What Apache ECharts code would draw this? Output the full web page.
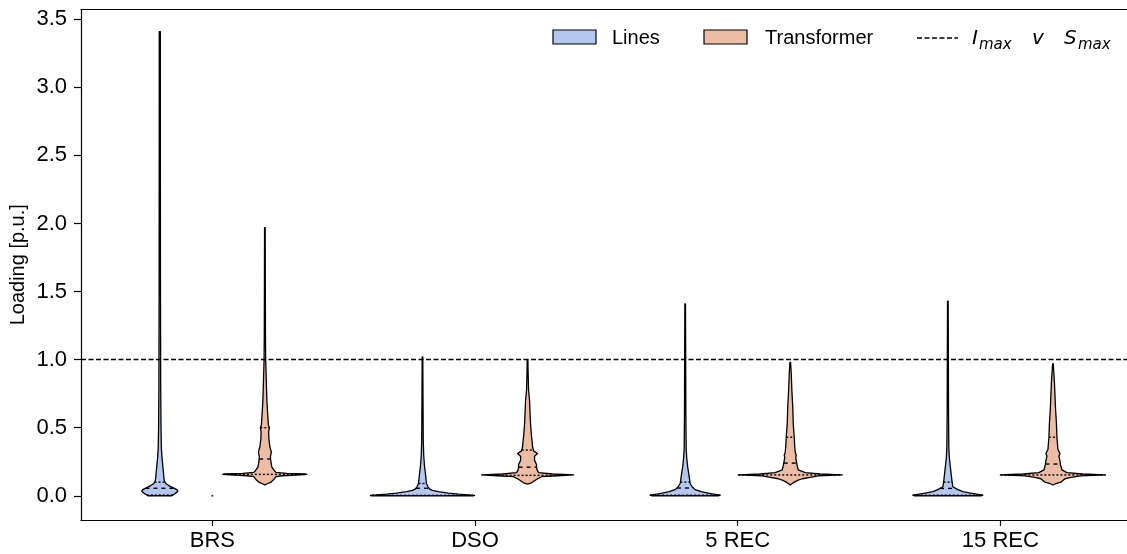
<!DOCTYPE html>
<html>
<head>
<meta charset="utf-8">
<script src="https://cdn.jsdelivr.net/npm/echarts@6/dist/echarts.min.js"></script>
<style>
html, body { margin: 0; padding: 0; background: #fff; }
#main { width: 1127px; height: 554px; }
</style>
</head>
<body>
<div id="main"></div>
<script>
// categories and ticks
var scenarios = ['BRS', 'DSO', '5 REC', '15 REC'];
var yTicks = [0, 0.5, 1, 1.5, 2, 2.5, 3, 3.5];
var limitValue = 1.0;

// violin profiles: [loading p.u., relative half width]
var linesBRS = [
    [3.41, 0.01], [2.5, 0.011], [1.5, 0.013], [0.8, 0.017], [0.5, 0.023], [0.35, 0.03],
    [0.28, 0.042], [0.22, 0.057], [0.18, 0.067], [0.14, 0.076], [0.11, 0.086], [0.09, 0.114],
    [0.075, 0.171], [0.06, 0.248], [0.045, 0.324], [0.035, 0.343], [0.025, 0.324],
    [0.015, 0.286], [0.005, 0.248], [0.0, 0.229]
];
var trafoBRS = [
    [1.97, 0.006], [1.6, 0.008], [1.2, 0.011], [1.0, 0.015], [0.9, 0.023], [0.8, 0.03],
    [0.7, 0.038], [0.6, 0.053], [0.52, 0.067], [0.5, 0.086], [0.47, 0.072], [0.42, 0.076],
    [0.36, 0.095], [0.32, 0.124], [0.29, 0.105], [0.25, 0.114], [0.21, 0.133], [0.18, 0.19],
    [0.172, 0.21], [0.165, 0.42], [0.16, 0.76], [0.157, 0.8], [0.153, 0.67], [0.147, 0.34],
    [0.14, 0.21], [0.12, 0.171], [0.1, 0.114], [0.09, 0.057], [0.08, 0.0]
];
var linesDSO = [
    [1.02, 0.006], [0.7, 0.01], [0.4, 0.015], [0.3, 0.023], [0.22, 0.038], [0.16, 0.057],
    [0.12, 0.067], [0.09, 0.076], [0.066, 0.105], [0.05, 0.133], [0.04, 0.19], [0.03, 0.305],
    [0.02, 0.495], [0.012, 0.686], [0.006, 0.876], [0.002, 0.99], [0.0, 0.95]
];
var trafoDSO = [
    [1.0, 0.006], [0.9, 0.011], [0.78, 0.019], [0.7, 0.038], [0.6, 0.048], [0.53, 0.057],
    [0.45, 0.072], [0.4, 0.086], [0.36, 0.095], [0.33, 0.114], [0.31, 0.19], [0.29, 0.133],
    [0.26, 0.133], [0.23, 0.171], [0.21, 0.171], [0.19, 0.181], [0.17, 0.21], [0.16, 0.476],
    [0.153, 0.876], [0.147, 0.571], [0.14, 0.267], [0.125, 0.19], [0.11, 0.133],
    [0.095, 0.076], [0.086, 0.0]
];
var lines5REC = [
    [1.41, 0.006], [1.0, 0.01], [0.6, 0.013], [0.35, 0.019], [0.28, 0.029], [0.21, 0.048],
    [0.14, 0.076], [0.09, 0.095], [0.066, 0.133], [0.045, 0.19], [0.03, 0.305],
    [0.018, 0.457], [0.01, 0.571], [0.004, 0.667], [0.0, 0.629]
];
var trafo5REC = [
    [0.98, 0.006], [0.9, 0.019], [0.78, 0.03], [0.65, 0.048], [0.53, 0.057], [0.43, 0.076],
    [0.36, 0.086], [0.32, 0.095], [0.3, 0.114], [0.28, 0.105], [0.26, 0.114], [0.22, 0.133],
    [0.19, 0.152], [0.17, 0.286], [0.16, 0.571], [0.153, 0.99], [0.146, 0.533],
    [0.135, 0.381], [0.125, 0.229], [0.115, 0.152], [0.1, 0.076], [0.09, 0.038], [0.079, 0.0]
];
var lines15REC = [
    [1.43, 0.006], [1.0, 0.01], [0.6, 0.013], [0.35, 0.019], [0.28, 0.029], [0.21, 0.048],
    [0.115, 0.076], [0.066, 0.095], [0.045, 0.19], [0.03, 0.286], [0.018, 0.457],
    [0.01, 0.571], [0.004, 0.667], [0.0, 0.629]
];
var trafo15REC = [
    [0.97, 0.006], [0.83, 0.029], [0.65, 0.048], [0.53, 0.067], [0.43, 0.076], [0.34, 0.095],
    [0.31, 0.133], [0.29, 0.114], [0.26, 0.133], [0.23, 0.143], [0.19, 0.171], [0.17, 0.267],
    [0.16, 0.571], [0.153, 1.0], [0.146, 0.533], [0.135, 0.343], [0.125, 0.229],
    [0.1, 0.152], [0.09, 0.057], [0.079, 0.0]
];

// quartiles [Q1, median, Q3]
var linesQuartiles = [[0.005, 0.055, 0.1], [0.003, 0.055, 0.09], [0.004, 0.057, 0.1], [0.004, 0.054, 0.1]];
var trafoQuartiles = [[0.157, 0.27, 0.5], [0.15, 0.21, 0.336], [0.153, 0.24, 0.43], [0.153, 0.233, 0.43]];

// stray point at BRS centre
var strayPoints = [[0, 0]];

var linesProfiles = [linesBRS, linesDSO, lines5REC, lines15REC];
var trafoProfiles = [trafoBRS, trafoDSO, trafo5REC, trafo15REC];

var HALF = 0.2;      // half width of a full-width violin in category units
var OFFSET = 0.2;    // hue dodge
var colLines = '#b3c8f1';
var colTrafo = '#ecbca5';

var violins = [];
scenarios.forEach(function (s, i) {
    violins.push({x: i - OFFSET, profile: linesProfiles[i], quart: linesQuartiles[i], color: colLines});
    violins.push({x: i + OFFSET, profile: trafoProfiles[i], quart: trafoQuartiles[i], color: colTrafo});
});

function widthAt(profile, y) {
    for (var i = 0; i < profile.length - 1; i++) {
        var a = profile[i], b = profile[i + 1];
        if (y <= a[0] && y >= b[0]) {
            var t = (a[0] - y) / (a[0] - b[0]);
            return a[1] + t * (b[1] - a[1]);
        }
    }
    return profile[profile.length - 1][1];
}

function renderViolin(params, api) {
    var v = violins[api.value(1)];
    var x = api.value(0);
    var right = [], left = [];
    v.profile.forEach(function (p) {
        var w = p[1] * HALF;
        right.push(api.coord([x + w, p[0]]));
        left.unshift(api.coord([x - w, p[0]]));
    });
    var children = [{
        type: 'polygon',
        shape: {points: right.concat(left)},
        style: {fill: v.color, stroke: '#000', lineWidth: 1.3, lineJoin: 'round'}
    }];
    v.quart.forEach(function (q, k) {
        var w = widthAt(v.profile, q) * HALF;
        var p1 = api.coord([x - w, q]), p2 = api.coord([x + w, q]);
        children.push({
            type: 'line',
            shape: {x1: p1[0], y1: p1[1], x2: p2[0], y2: p2[1]},
            style: {stroke: '#000', lineWidth: 1.4, lineDash: k === 1 ? [4, 4] : [2, 2]}
        });
    });
    return {type: 'group', children: children};
}

var chart = echarts.init(document.getElementById('main'));
var font = 'Liberation Sans, Arial, sans-serif';
var mathFont = 'DejaVu Sans, sans-serif';

chart.setOption({
    animation: false,
    backgroundColor: '#fff',
    grid: {left: 81, right: 0, top: 9.5, bottom: 34, outerBoundsMode: 'none'},
    xAxis: [{
        type: 'value', min: -0.5, max: 3.482,
        splitLine: {show: false},
        axisLine: {onZero: false, lineStyle: {color: '#000', width: 1.2}},
        axisTick: {customValues: [0, 1, 2, 3], length: 6, lineStyle: {color: '#000', width: 1.2}},
        axisLabel: {
            customValues: [0, 1, 2, 3], margin: 10,
            color: '#000', fontSize: 22, fontFamily: font,
            formatter: function (v) { return scenarios[Math.round(v)]; }
        }
    }, {
        type: 'value', min: -0.5, max: 3.482, position: 'top',
        splitLine: {show: false}, axisTick: {show: false}, axisLabel: {show: false},
        axisLine: {onZero: false, lineStyle: {color: '#000', width: 1.2}}
    }],
    yAxis: {
        type: 'value', min: -0.178, max: 3.572,
        name: 'Loading [p.u.]', nameLocation: 'middle', nameGap: 53, nameMoveOverlap: false,
        nameTextStyle: {color: '#000', fontSize: 20, fontFamily: font},
        splitLine: {show: false},
        axisLine: {onZero: false, lineStyle: {color: '#000', width: 1.2}},
        axisTick: {customValues: yTicks, length: 7, lineStyle: {color: '#000', width: 1.2}},
        axisLabel: {
            customValues: yTicks, margin: 14,
            color: '#000', fontSize: 22, fontFamily: font,
            formatter: function (v) { return v.toFixed(1); }
        }
    },
    series: [
        {
            type: 'custom',
            renderItem: renderViolin,
            data: violins.map(function (v, i) { return [v.x, i]; }),
            z: 3
        },
        {
            type: 'line', data: [], silent: true,
            markLine: {
                silent: true, symbol: ['none', 'none'], label: {show: false},
                lineStyle: {color: '#000', width: 1.3, type: [5, 2.5]},
                data: [{yAxis: limitValue}]
            },
            z: 4
        },
        {
            type: 'scatter', data: strayPoints, symbolSize: 2,
            itemStyle: {color: '#000'}, silent: true
        }
    ],
    graphic: [
        {type: 'rect', shape: {x: 553, y: 30, width: 43, height: 14}, style: {fill: colLines, stroke: '#000', lineWidth: 1.2}},
        {type: 'text', x: 612, y: 38.5, style: {text: 'Lines', font: '20px ' + font, fill: '#000', verticalAlign: 'middle'}},
        {type: 'rect', shape: {x: 704, y: 30, width: 43, height: 14}, style: {fill: colTrafo, stroke: '#000', lineWidth: 1.2}},
        {type: 'text', x: 765, y: 38.5, style: {text: 'Transformer', font: '20px ' + font, fill: '#000', verticalAlign: 'middle'}},
        {type: 'line', shape: {x1: 917, y1: 38, x2: 958, y2: 38}, style: {stroke: '#000', lineWidth: 1.3, lineDash: [5, 2.5]}},
        {type: 'text', x: 972, y: 38.5, style: {text: 'I', font: 'italic 20px ' + mathFont, fill: '#000', verticalAlign: 'middle'}},
        {type: 'text', x: 979, y: 45, style: {text: 'max', font: 'italic 15px ' + mathFont, fill: '#000', verticalAlign: 'middle'}},
        {type: 'text', x: 1032, y: 38.5, style: {text: 'v', font: 'italic 20px ' + mathFont, fill: '#000', verticalAlign: 'middle'}},
        {type: 'text', x: 1064, y: 38.5, style: {text: 'S', font: 'italic 20px ' + mathFont, fill: '#000', verticalAlign: 'middle'}},
        {type: 'text', x: 1078, y: 45, style: {text: 'max', font: 'italic 15px ' + mathFont, fill: '#000', verticalAlign: 'middle'}}
    ]
});
</script>
</body>
</html>
